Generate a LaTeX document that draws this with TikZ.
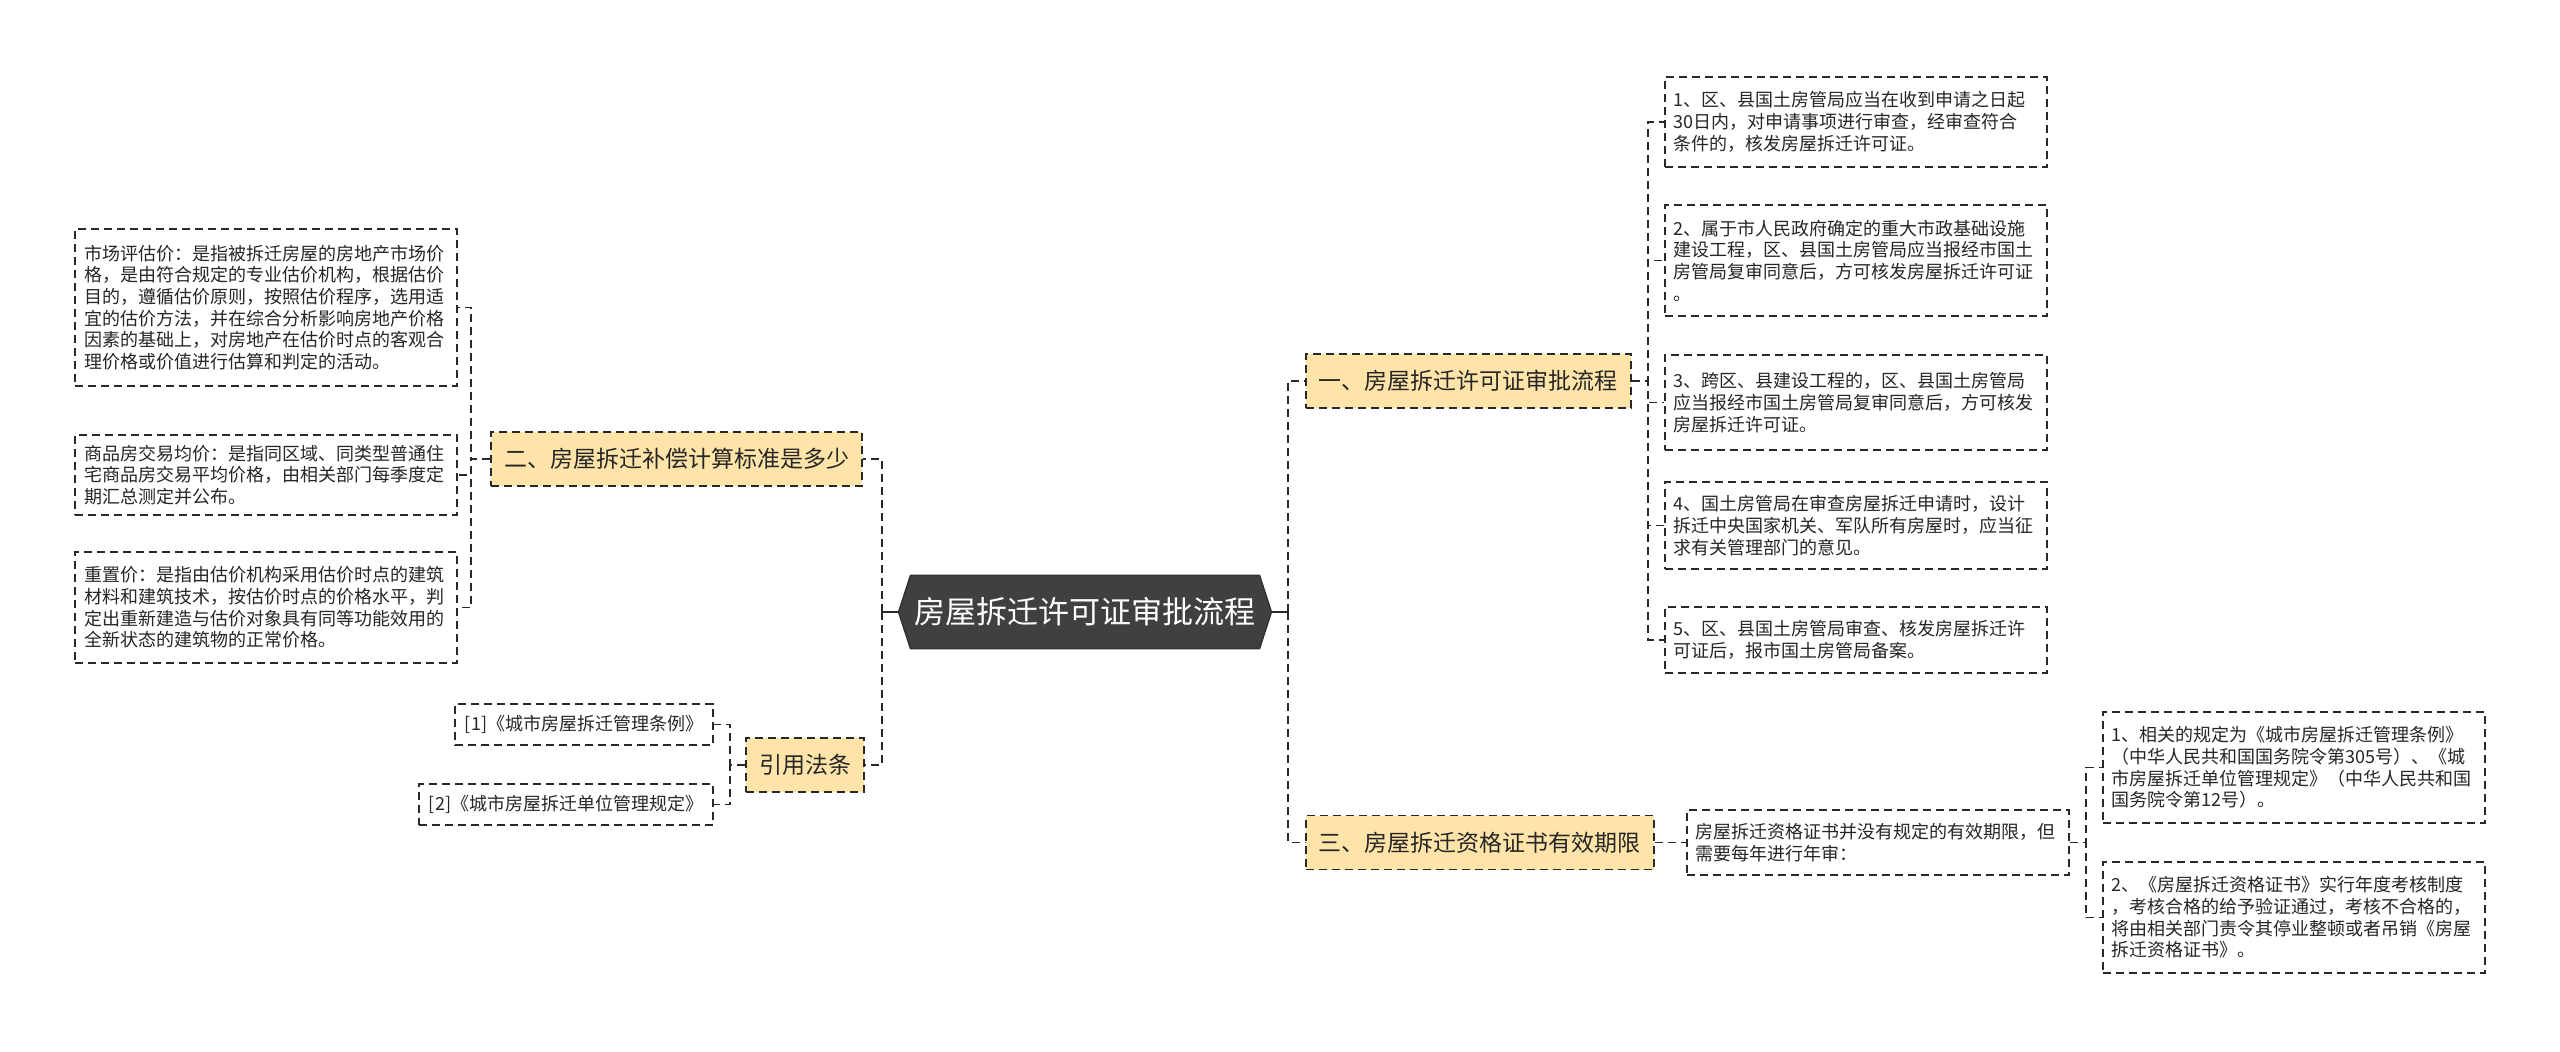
\documentclass[tikz,border=0pt]{standalone}
\usepackage{fontspec}
\setmainfont{Noto Sans CJK SC}
\usetikzlibrary{shapes.symbols}
\definecolor{peach}{RGB}{255,228,170}
\definecolor{boxline}{RGB}{40,40,40}
\definecolor{hubfill}{RGB}{64,64,64}
\tikzset{
	link/.style={draw=boxline, line width=0.9pt, dash pattern=on 4pt off 2.5pt},
	leaf/.style={link, fill=white, text=black!85, font=\fontsize{9}{10.85}\selectfont,
		text width=182pt, align=left, inner xsep=4.5pt, inner ysep=4pt},
	refbox/.style={link, fill=white, text=black!85, font=\fontsize{9}{10.85}\selectfont,
		inner xsep=5pt, minimum height=20.5pt},
	topic/.style={link, fill=peach, text=black!85, font=\fontsize{11.5}{14}\selectfont,
		inner xsep=6.5pt, minimum height=27pt},
	hub/.style={shape=signal, signal to=west and east, signal pointer angle=144,
		draw=black!80, line width=0.8pt, fill=hubfill, text=white, inner xsep=2pt,
		font=\fontsize{15.5}{18}\selectfont, minimum height=36.5pt}
}
\begin{document}
\begin{tikzpicture}[x=0.5pt, y=-0.5pt]
		\useasboundingbox (0,0) rectangle (2560,1051);
		\fill[white] (0,0) rectangle (2560,1051);
		% centre
		\node[hub] (hub) at (1085,612) {房屋拆迁许可证审批流程};
		% left branches
		\node[topic, anchor=east] (n2) at (863,459) {二、房屋拆迁补偿计算标准是多少};
		\node[topic, anchor=east] (n4) at (865,765) {引用法条};
		\node[leaf, anchor=east, minimum height=78.5pt] (L1) at (458,307.5) {市场评估价：是指被拆迁房屋的房地产市场价\\格，是由符合规定的专业估价机构，根据估价\\目的，遵循估价原则，按照估价程序，选用适\\宜的估价方法，并在综合分析影响房地产价格\\因素的基础上，对房地产在估价时点的客观合\\理价格或价值进行估算和判定的活动。};
		\node[leaf, anchor=east, minimum height=40pt] (L2) at (458,475) {商品房交易均价：是指同区域、同类型普通住\\宅商品房交易平均价格，由相关部门每季度定\\期汇总测定并公布。};
		\node[leaf, anchor=east, minimum height=55.5pt] (L3) at (458,607.5) {重置价：是指由估价机构采用估价时点的建筑\\材料和建筑技术，按估价时点的价格水平，判\\定出重新建造与估价对象具有同等功能效用的\\全新状态的建筑物的正常价格。};
		\node[refbox, anchor=east] (R1) at (714,724.5) {[1]《城市房屋拆迁管理条例》};
		\node[refbox, anchor=east] (R2) at (714,804.5) {[2]《城市房屋拆迁单位管理规定》};
		% right branches
		\node[topic, anchor=west] (n1) at (1305,381) {一、房屋拆迁许可证审批流程};
		\node[topic, anchor=west] (n3) at (1305,842.5) {三、房屋拆迁资格证书有效期限};
		\node[leaf, anchor=west, minimum height=45pt] (A1) at (1664,122) {1、区、县国土房管局应当在收到申请之日起\\30日内，对申请事项进行审查，经审查符合\\条件的，核发房屋拆迁许可证。};
		\node[leaf, anchor=west, minimum height=55.5pt] (A2) at (1664,260.5) {2、属于市人民政府确定的重大市政基础设施\\建设工程，区、县国土房管局应当报经市国土\\房管局复审同意后，方可核发房屋拆迁许可证\\。};
		\node[leaf, anchor=west, minimum height=47.5pt] (A3) at (1664,402.5) {3、跨区、县建设工程的，区、县国土房管局\\应当报经市国土房管局复审同意后，方可核发\\房屋拆迁许可证。};
		\node[leaf, anchor=west, minimum height=43.5pt] (A4) at (1664,525.5) {4、国土房管局在审查房屋拆迁申请时，设计\\拆迁中央国家机关、军队所有房屋时，应当征\\求有关管理部门的意见。};
		\node[leaf, anchor=west, minimum height=33pt] (A5) at (1664,640) {5、区、县国土房管局审查、核发房屋拆迁许\\可证后，报市国土房管局备案。};
		\node[leaf, anchor=west, minimum height=32.5pt] (T0) at (1686,842.5) {房屋拆迁资格证书并没有规定的有效期限，但\\需要每年进行年审：};
		\node[leaf, anchor=west, minimum height=55.5pt] (T1) at (2102,767.5) {1、相关的规定为《城市房屋拆迁管理条例》\\（中华人民共和国国务院令第305号）、《城\\市房屋拆迁单位管理规定》（中华人民共和国\\国务院令第12号）。};
		\node[leaf, anchor=west, minimum height=55.5pt] (T2) at (2102,917.5) {2、《房屋拆迁资格证书》实行年度考核制度\\，考核合格的给予验证通过，考核不合格的，\\将由相关部门责令其停业整顿或者吊销《房屋\\拆迁资格证书》。};
		% connectors
		\draw[boxline, line width=0.9pt] (hub.west) -- ++(-16,0) coordinate (hl);
		\draw[boxline, line width=0.9pt] (hub.east) -- ++(16,0) coordinate (hr);
		\foreach \t in {n2,n4} \draw[link] (hl) |- (\t.east);
		\foreach \t in {n1,n3} \draw[link] (hr) |- (\t.west);
		\foreach \b in {L1,L2,L3} \draw[link] (n2.west) -- ++(-19,0) |- (\b.east);
		\foreach \b in {R1,R2} \draw[link] (n4.west) -- ++(-15,0) |- (\b.east);
		\foreach \b in {A1,A2,A3,A4,A5} \draw[link] (n1.east) -- ++(16,0) |- (\b.west);
		\draw[link] (n3.east) -- (T0.west);
		\foreach \b in {T1,T2} \draw[link] (T0.east) -- ++(16,0) |- (\b.west);
	\end{tikzpicture}
\end{document}
